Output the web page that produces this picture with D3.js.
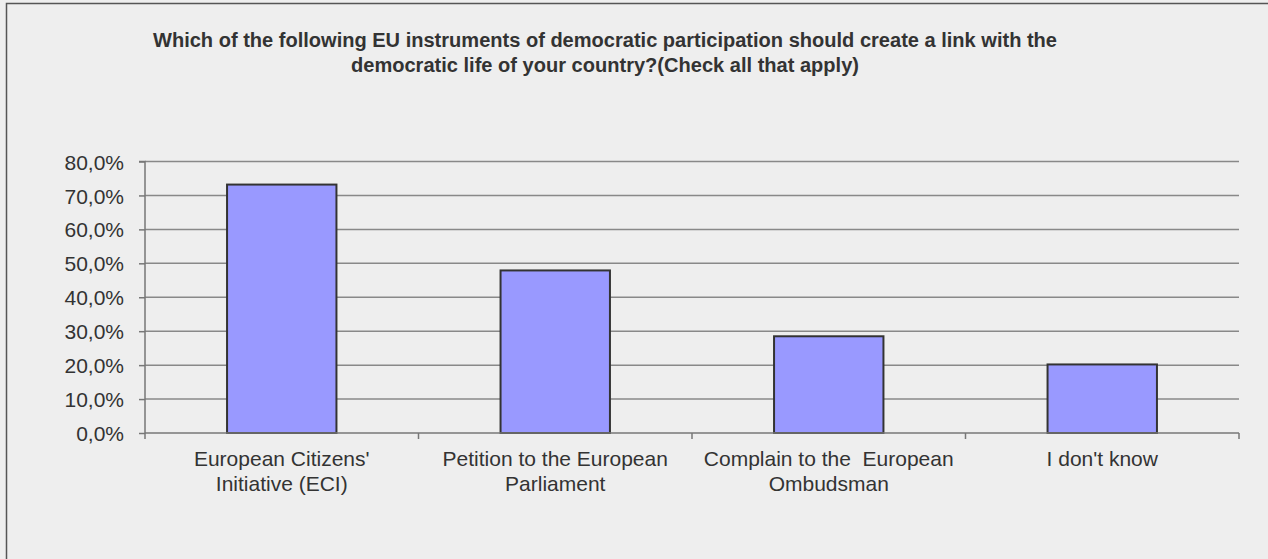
<!DOCTYPE html>
<html><head><meta charset="utf-8">
<script src="https://cdn.jsdelivr.net/npm/d3@7"></script>
<style>
html,body{margin:0;padding:0;background:#eeeeee;}
svg{display:block;}
</style></head><body>
<svg id="c" width="1268" height="559"></svg>
<script>
const titleLines = ["Which of the following EU instruments of democratic participation should create a link with the",
  "democratic life of your country?(Check all that apply)"];
const categories = ["European Citizens' Initiative (ECI)", "Petition to the European Parliament", "Complain to the  European Ombudsman", "I don't know"];
const categoryLines = [["European Citizens'", "Initiative (ECI)"], ["Petition to the European", "Parliament"], ["Complain to the  European", "Ombudsman"], ["I don't know"]];
const values = [0.732, 0.479, 0.285, 0.202];
const yTicks = [0, 0.1, 0.2, 0.3, 0.4, 0.5, 0.6, 0.7, 0.8];
const yTickLabels = ["0,0%", "10,0%", "20,0%", "30,0%", "40,0%", "50,0%", "60,0%", "70,0%", "80,0%"];

(function(){
const FONT = "'Liberation Sans', Arial, sans-serif";
const svg = d3.select("#c");
svg.append("rect").attr("width",1268).attr("height",559).attr("fill","#eeeeee");
// frame (top & left edges visible)
svg.append("path").attr("d","M6.5,559 V3.5 H1268").attr("fill","none").attr("stroke","#555").attr("stroke-width",1.5);

const pL=145, pR=1239, pT=161.5, pB=433;
const x = d3.scaleBand().domain(categories).range([pL,pR]).padding(0);
const y = d3.scaleLinear().domain([0,0.8]).range([pB,pT]);

// title
const tw = [904, 508];
titleLines.forEach((t,i)=>{
  svg.append("text").attr("x",605).attr("y",47+i*25).attr("text-anchor","middle")
    .style("font-family",FONT).style("font-size","20px").style("font-weight","bold").style("fill","#333")
    .attr("textLength",tw[i]).attr("lengthAdjust","spacingAndGlyphs").text(t);
});

// gridlines
svg.append("g").selectAll("line").data(yTicks.filter(d=>d>0)).join("line")
  .attr("x1",pL).attr("x2",pR).attr("y1",d=>y(d)).attr("y2",d=>y(d))
  .attr("stroke","#888").attr("stroke-width",1.5);

// y axis
const yAxis = d3.axisLeft(y).tickValues(yTicks).tickFormat((d,i)=>yTickLabels[i]).tickSize(6).tickPadding(15);
const gy = svg.append("g").attr("transform",`translate(${pL},0)`).call(yAxis);
gy.select(".domain").attr("stroke","#777").attr("stroke-width",1.5).attr("d",`M-6,${pT}H0V${pB}`);
gy.selectAll(".tick line").attr("stroke","#777").attr("stroke-width",1.5);
gy.selectAll(".tick text").style("font-size","21px").style("font-family",FONT).style("fill","#333").attr("dy","0.36em");

// bars
const bw = x.bandwidth()*0.4;
svg.append("g").selectAll("rect").data(values).join("rect")
  .attr("x",(d,i)=>x(categories[i])+x.bandwidth()/2-bw/2)
  .attr("width",bw)
  .attr("y",d=>y(d)).attr("height",d=>pB-y(d))
  .attr("fill","#9999ff").attr("stroke","#333").attr("stroke-width",2);

// x axis
const gx = svg.append("g").attr("transform",`translate(0,${pB})`);
gx.append("line").attr("x1",pL).attr("x2",pR).attr("stroke","#777").attr("stroke-width",1.5);
const bounds = categories.map(c=>x(c)).concat([pR]);
gx.selectAll("line.t").data(bounds).join("line").attr("class","t")
  .attr("x1",d=>d).attr("x2",d=>d).attr("y1",0).attr("y2",6).attr("stroke","#777").attr("stroke-width",1.5);
categories.forEach((c,i)=>{
  const tx = gx.append("text").attr("text-anchor","middle")
    .style("font-size","21px").style("font-family",FONT).style("fill","#333").style("white-space","pre");
  categoryLines[i].forEach((l,j)=>{
    tx.append("tspan").attr("x",x(c)+x.bandwidth()/2).attr("y",33+j*24.5).text(l);
  });
});
})();
</script>
</body></html>
